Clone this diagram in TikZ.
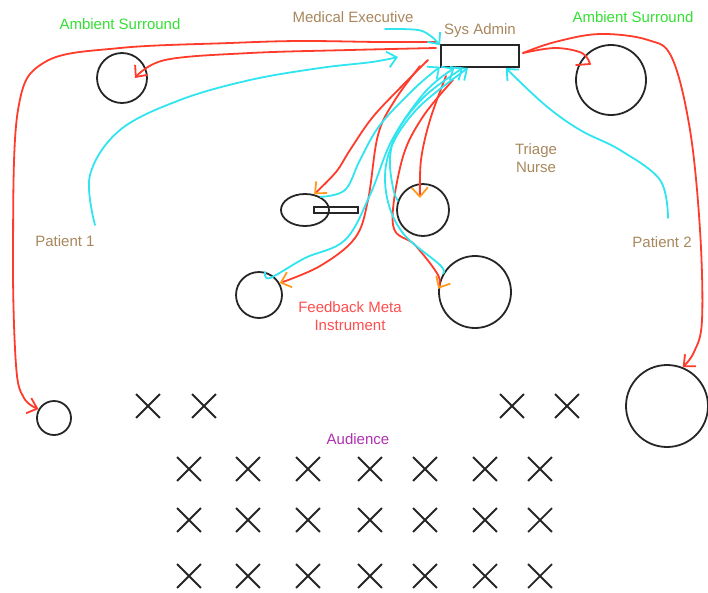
\documentclass[tikz,border=0pt]{standalone}
\usepackage{fontspec}
\setmainfont{Liberation Sans}
\usetikzlibrary{arrows.meta,shapes.misc,shapes.geometric}
\definecolor{redl}{HTML}{FF3B2B}
\definecolor{cyanl}{HTML}{30E4F0}
\definecolor{orangel}{HTML}{FF9A1F}
\definecolor{tan}{HTML}{A8875C}
\definecolor{greenl}{HTML}{33E033}
\definecolor{redt}{HTML}{FF4D4D}
\definecolor{purp}{HTML}{B030B0}
\begin{document}
\begin{tikzpicture}[x=1pt,y=-1pt,
  circ/.style={draw=black!85,line width=1.8pt,circle,inner sep=0pt},
  xmark/.style={draw=black!85,line width=1.8pt,cross out,minimum size=22pt,inner sep=0pt},
  lbl/.style={font=\fontsize{15}{17}\selectfont,align=center,inner sep=0pt},
  redc/.style={draw=redl,line width=1.8pt,line cap=round,line join=round},
  cyanc/.style={draw=cyanl,line width=1.8pt,line cap=round,line join=round},
  rtip/.style={-{Straight Barb[length=9pt,width=16pt,line width=1.8pt]}},
  otip/.style={-{Straight Barb[length=9pt,width=16pt,line width=1.8pt,color=orangel]}},
]
\useasboundingbox (0,0) rectangle (708,592);
% nodes
\node[draw=black!85,line width=2pt,minimum width=78pt,minimum height=22pt,inner sep=0pt] (sa) at (480,56) {};
\node[circ,minimum size=50pt] (lc) at (122,78) {};
\node[circ,minimum size=70pt] (rc) at (611,80) {};
\node[circ,ellipse,minimum width=48pt,minimum height=32pt] (el) at (305,210) {};
\node[draw=black!85,line width=1.8pt,minimum width=44pt,minimum height=6pt,inner sep=0pt] (bar) at (336,210) {};
\node[circ,minimum size=52pt] (mc) at (423,210) {};
\node[circ,minimum size=46pt] (sc) at (259,295) {};
\node[circ,minimum size=72pt] (bc) at (475,292) {};
\node[circ,minimum size=34pt] (bl) at (54,418) {};
\node[circ,minimum size=82pt] (br) at (667,406) {};
% labels
\node[lbl,text=tan] (me) at (353,17) {Medical Executive};
\node[lbl,text=tan] (sal) at (480,31) {Sys Admin};
\node[lbl,text=greenl] (asl) at (120,24) {Ambient Surround};
\node[lbl,text=greenl] (asr) at (633,17) {Ambient Surround};
\node[lbl,text=tan] (tn) at (536,158) {Triage\\[1pt]Nurse};
\node[lbl,text=tan] (p1) at (65,241) {Patient 1};
\node[lbl,text=tan] (p2) at (662,242) {Patient 2};
\node[lbl,text=redt] (fb) at (350,316) {Feedback Meta\\[1pt]Instrument};
\node[lbl,text=purp] (au) at (358,439) {Audience};
% audience
\foreach \x [count=\i] in {148,204,512,567} \node[xmark] (xa\i) at (\x,406) {};
\foreach \y [count=\j] in {469,520,576}
  \foreach \x [count=\i] in {189,248,308,370,425,485,540}
    \node[xmark] (x\j\i) at (\x,\y) {};
% coordinates for free ends
\coordinate (r1s) at (436,42);
\coordinate (r2s) at (436,48);
\coordinate (lct) at (135,78);
\coordinate (rcs) at (523,53);
\coordinate (rch) at (590,64);
\coordinate (p1s) at (95,225);
\coordinate (p2s) at (668,218);
\coordinate (mes) at (385,29);
% red connectors
\draw[redc,rtip] plot[smooth,tension=0.6] coordinates {(r1s) (380,42) (300,41) (230,43) (120,48) (45,62) (18,110) (13,250) (16,365) (24,398) (bl.150)};
\draw[redc,rtip] plot[smooth,tension=0.6] coordinates {(r2s) (350,50) (250,53) (165,60) (lct)};
\draw[redc,rtip] plot[smooth,tension=0.6] coordinates {(rcs) (555,42) (600,34) (648,40) (672,58) (690,130) (700,230) (702,320) (694,352) (br.68)};
\draw[redc] plot[smooth,tension=0.6] coordinates {(rcs) (555,48) (582,53) (rch)} -- (576,65);
\draw[redc,otip] plot[smooth,tension=0.6] coordinates {(428,60) (400,88) (372,118) (350,150) (336,172) (el.60)};
\draw[redc,otip] plot[smooth,tension=0.6] coordinates {(420,66) (395,100) (378,135) (368,200) (355,238) (320,266) (sc.30)};
\draw[redc,otip] plot[smooth,tension=0.6] coordinates {(446,76) (430,120) (421,160) (420,198)};
\draw[redc,otip] plot[smooth,tension=0.6] coordinates {(453,80) (422,118) (402,160) (393,225) (415,245) (438,275) (bc.175)};
% cyan connectors
\draw[cyanc,rtip] plot[smooth,tension=0.6] coordinates {(mes) (418,30) (432,37) (sa.165)};
\draw[cyanc,rtip] plot[smooth,tension=0.6] coordinates {(p1s) (90,175) (120,130) (180,100) (250,80) (320,68) (372,62) (398,57)};
\draw[cyanc,rtip] plot[smooth,tension=0.6] coordinates {(p2s) (660,180) (620,150) (580,130) (545,105) (sa.-25)};
\draw[cyanc,rtip] plot[smooth,tension=0.6] coordinates {(el.40) (345,190) (360,160) (380,125) (415,88) (sa.195)};
\draw[cyanc,rtip] plot[smooth,tension=0.6] coordinates {(sc.75) (270,278) (305,258) (345,240) (370,195) (392,140) (425,92) (sa.205)};
\draw[cyanc,rtip] plot[smooth,tension=0.6] coordinates {(mc.160) (393,188) (390,158) (398,130) (425,96) (sa.215)};
\draw[cyanc,rtip] plot[smooth,tension=0.6] coordinates {(bc.150) (440,265) (402,232) (386,192) (390,150) (418,108) (sa.225)};
\end{tikzpicture}
\end{document}
